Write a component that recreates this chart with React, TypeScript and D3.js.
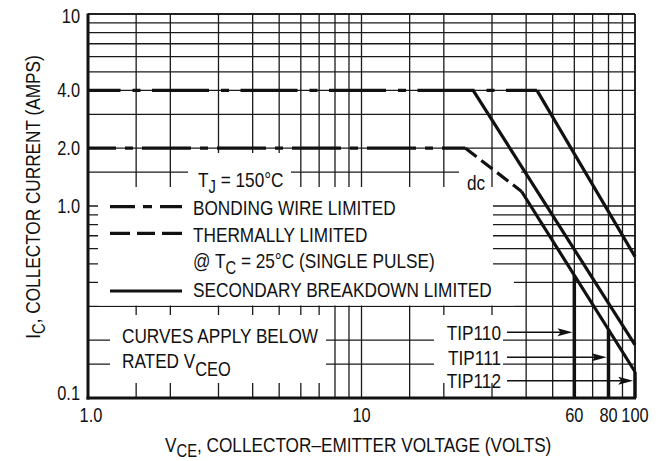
import React from 'react';
import * as d3 from 'd3';

// ---- data ----
const xGridValues = [1.5, 2, 3, 4, 5, 6, 7, 8, 9, 10, 15, 20, 30, 40, 50, 60, 70, 80, 90, 100];
const yGridValues = [0.15, 0.2, 0.3, 0.4, 0.5, 0.6, 0.7, 0.8, 0.9, 1, 1.5, 2, 3, 4, 5, 6, 7, 8, 9, 10];
const xTickValues = [1, 10, 60, 80, 100];
const xTickText = ['1.0', '10', '60', '80', '100'];
const yTickValues = [0.1, 1, 2, 4, 10];
const yTickText = ['0.1', '1.0', '2.0', '4.0', '10'];

// bonding wire limited (dash-dot)
const bondPulseV = [1, 43.8];
const bondPulseI = [4.0, 4.0];
const bondDcV = [1, 24];
const bondDcI = [2.0, 2.0];
// thermally limited (dc)
const thermalV = [24, 38.5];
const thermalI = [2.0, 1.19];
// secondary breakdown limited
const sbDcV = [38.5, 100];
const sbDcI = [1.19, 0.137];
const sbPulseAV = [25.6, 100];
const sbPulseAI = [4.0, 0.189];
const sbPulseBV = [43.8, 100];
const sbPulseBI = [4.0, 0.545];
// rated VCEO
const devices = ['TIP110', 'TIP111', 'TIP112'];
const vceo = [60, 80, 100];
const arrowI = [0.22, 0.163, 0.123];

const FONT = "'Liberation Sans', Arial, sans-serif";
const INK = '#111';
const NARROW = 0.82;

const zip = (a: number[], b: number[]) => a.map((v, i) => [v, b[i]] as [number, number]);

function T(props: { x: number; y: number; size?: number; anchor?: string; rotate?: number; children: React.ReactNode }) {
  const { x, y, size = 21, anchor = 'start', rotate, children } = props;
  const tr = `translate(${x},${y})${rotate ? ` rotate(${rotate})` : ''} scale(${NARROW},1)`;
  return (
    <g transform={tr}>
      <text x={0} y={0} textAnchor={anchor} fontFamily={FONT} fontSize={size} fill={INK}>{children}</text>
    </g>
  );
}

export default function App() {
  const left = 88, right = 635, top = 14, bottom = 398;
  const x = d3.scaleLog().domain([1, 100]).range([left, right]);
  const y = d3.scaleLog().domain([0.1, 10]).range([bottom, top]);
  const line = d3.line<[number, number]>().x(d => x(d[0])).y(d => y(d[1]));

  const dcAt = (v: number) => {
    const t = (Math.log10(v) - Math.log10(sbDcV[0])) / (Math.log10(sbDcV[1]) - Math.log10(sbDcV[0]));
    return Math.pow(10, Math.log10(sbDcI[0]) + t * (Math.log10(sbDcI[1]) - Math.log10(sbDcI[0])));
  };

  const gridStroke = { stroke: '#1a1a1a', strokeWidth: 1.3 };
  const curve = { fill: 'none', stroke: INK, strokeWidth: 3.2 };
  const sub = { fontSize: 18 };

  return (
    <svg width={665} height={461} style={{ position: 'absolute', left: 0, top: 0, background: '#fff' }}>
      <rect x={0} y={0} width={665} height={461} fill="#fff" />
      {/* horizontal grid */}
      {yGridValues.map(v => (
        <line key={'h' + v} x1={left} x2={right} y1={y(v)} y2={y(v)} {...gridStroke} />
      ))}
      {/* gap around dc label on 1.5 A line */}
      <rect x={459} y={y(1.5) - 3} width={62} height={6} fill="#fff" />
      {/* vertical grid */}
      {xGridValues.map(v => (
        <line key={'v' + v} x1={x(v)} x2={x(v)} y1={top} y2={bottom} {...gridStroke} />
      ))}
      {/* white boxes behind text */}
      <rect x={188} y={153} width={103} height={34} fill="#fff" />
      <rect x={98} y={187} width={395} height={118.5} fill="#fff" />
      <rect x={493} y={270} width={21} height={35.5} fill="#fff" />
      <rect x={110} y={315} width={216} height={68} fill="#fff" />
      <rect x={434} y={315} width={69} height={68} fill="#fff" />

      {/* frame */}
      <line x1={left} x2={right} y1={top} y2={top} stroke={INK} strokeWidth={1.5} />
      <line x1={right} x2={right} y1={top} y2={bottom} stroke={INK} strokeWidth={1.5} />
      <line x1={left} x2={left} y1={top - 0.5} y2={bottom + 1.5} stroke={INK} strokeWidth={3} />
      <line x1={left - 1.5} x2={right + 1} y1={bottom} y2={bottom} stroke={INK} strokeWidth={3} />

      {/* curves */}
      <path d={line(zip(bondPulseV, bondPulseI)) || ''} {...curve} strokeDasharray="57 12 8 11.5" strokeDashoffset={24.5} />
      <path d={line(zip(bondDcV, bondDcI)) || ''} {...curve} strokeDasharray="49 9 8 9" strokeDashoffset={21} />
      <path d={line(zip(thermalV, thermalI)) || ''} {...curve} strokeDasharray="14 6" />
      <path d={line(zip(sbDcV, sbDcI)) || ''} {...curve} strokeLinejoin="round" />
      <path d={line(zip(sbPulseAV, sbPulseAI)) || ''} {...curve} />
      <path d={line(zip(sbPulseBV, sbPulseBI)) || ''} {...curve} />

      {/* rated VCEO lines and arrows */}
      {vceo.map((v, i) => {
        const xv = x(v);
        const ya = y(arrowI[i]);
        const tip = xv - 1.8;
        return (
          <g key={'vceo' + v}>
            <line x1={xv} x2={xv} y1={y(dcAt(v))} y2={bottom} stroke={INK} strokeWidth={3.5} />
            <line x1={507} x2={tip - 8} y1={ya} y2={ya} stroke={INK} strokeWidth={1.5} />
            <polygon points={`${tip},${ya} ${tip - 15},${ya - 4} ${tip - 12},${ya} ${tip - 15},${ya + 4}`} fill={INK} />
            <T x={501} y={ya + 7.5} anchor="end">{devices[i]}</T>
          </g>
        );
      })}

      {/* tick labels */}
      {yTickValues.map((v, i) => (
        <T key={'yt' + v} x={80} y={y(v) + (v === 0.1 ? 2 : v === 10 ? 8.5 : 7)} anchor="end" size={20}>{yTickText[i]}</T>
      ))}
      {xTickValues.map((v, i) => (
        <T key={'xt' + v} x={x(v) + (v === 1 ? 3 : 0)} y={422} anchor="middle" size={20}>{xTickText[i]}</T>
      ))}

      {/* legend */}
      <T x={198} y={186.5}>T<tspan dy={6} {...sub}>J</tspan><tspan dy={-6}> = 150°C</tspan></T>
      <path d="M110,206.7H182" {...curve} strokeDasharray="25 8 9 8 22" />
      <T x={193} y={215}>BONDING WIRE LIMITED</T>
      <path d="M110,233.3H182" {...curve} strokeDasharray="20 7 18 7 20" />
      <T x={193} y={242}>THERMALLY LIMITED</T>
      <T x={193} y={268}>@ T<tspan dy={6} {...sub}>C</tspan><tspan dy={-6}> = 25°C (SINGLE PULSE)</tspan></T>
      <path d="M110,291H182" {...curve} />
      <T x={193} y={297}>SECONDARY BREAKDOWN LIMITED</T>
      <T x={467} y={190}>dc</T>

      <T x={122} y={343}>CURVES APPLY BELOW</T>
      <T x={122} y={368}>RATED V<tspan dy={8} fontSize={20}>CEO</tspan></T>

      {/* axis titles */}
      <T x={165} y={452}>V<tspan dy={5} {...sub}>CE</tspan><tspan dy={-5}>, COLLECTOR–EMITTER VOLTAGE (VOLTS)</tspan></T>
      <T x={40} y={197} rotate={-90} anchor="middle">I<tspan dy={5} {...sub}>C</tspan><tspan dy={-5}>, COLLECTOR CURRENT (AMPS)</tspan></T>
    </svg>
  );
}
